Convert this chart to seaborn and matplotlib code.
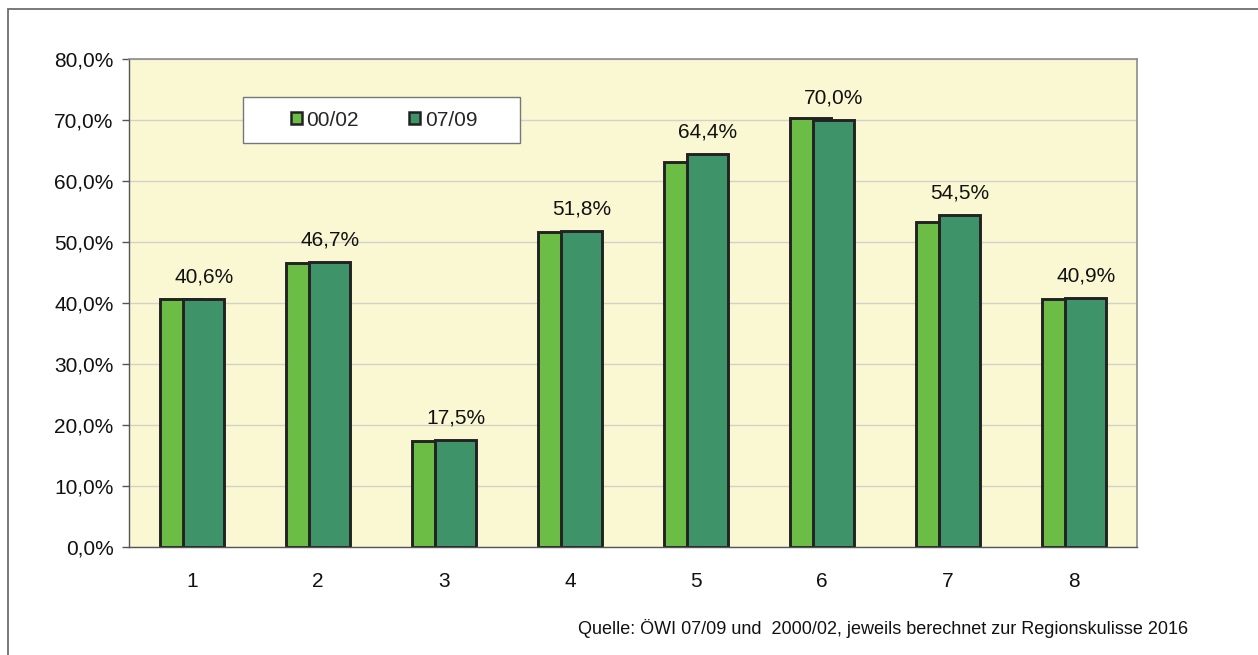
import numpy as np
import matplotlib
matplotlib.use("Agg")
import matplotlib.pyplot as plt
from matplotlib.patches import Rectangle
from matplotlib.ticker import FuncFormatter, FixedLocator
import seaborn as sns

# Region numbers and shares per survey period (%)
regions = ["1", "2", "3", "4", "5", "6", "7", "8"]
share_0002 = [40.6, 46.5, 17.3, 51.6, 63.1, 70.3, 53.2, 40.6]
share_0709 = [40.6, 46.7, 17.5, 51.8, 64.4, 70.0, 54.5, 40.9]
series_labels = ["00/02", "07/09"]
source_note = "Quelle: ÖWI 07/09 und  2000/02, jeweils berechnet zur Regionskulisse 2016"

sns.set_theme(style="white")
plt.rcParams["font.family"] = ["Liberation Sans", "DejaVu Sans"]

col_light = "#6cbd45"
col_dark = "#3e9468"
edge = "#222222"
fs = 15

fig = plt.figure(figsize=(12.58, 6.55), dpi=100)
ax = fig.add_axes([129 / 1258, 1 - 547 / 655, (1137 - 129) / 1258, (547 - 59) / 655])
ax.set_facecolor("#faf8d2")

pos = np.arange(1, len(regions) + 1, dtype=float)
offset = 0.095
bw = 0.325

sns.barplot(x=pos - offset, y=share_0002, native_scale=True, width=bw,
            color=col_light, edgecolor=edge, linewidth=2.1, saturation=1,
            ax=ax, zorder=2, label=series_labels[0])
sns.barplot(x=pos + offset, y=share_0709, native_scale=True, width=bw,
            color=col_dark, edgecolor=edge, linewidth=2.1, saturation=1,
            ax=ax, zorder=2.1, label=series_labels[1])

# Value labels above the 07/09 bars
for x, v in zip(pos + offset, share_0709):
    ax.annotate(f"{v:.1f}%".replace(".", ","), (x, v), xytext=(0, 9),
                textcoords="offset points", ha="center", va="bottom",
                fontsize=fs, color="#111111")

ax.set_xlim(0.5, len(regions) + 0.5)
ax.set_ylim(0, 80)
ax.yaxis.set_major_locator(FixedLocator(np.arange(0, 81, 10)))
ax.yaxis.set_major_formatter(FuncFormatter(lambda v, p: f"{v:.1f}%".replace(".", ",")))
ax.grid(axis="y", color="#d2d2c8", linewidth=1.0, zorder=0)
ax.set_axisbelow(True)

# Category labels at centres, tick marks at category boundaries
ax.set_xticks(pos)
ax.set_xticklabels(regions)
ax.set_xticks(np.arange(0.5, len(regions) + 1, 1.0), minor=True)
ax.tick_params(axis="x", which="major", length=0, pad=18, labelsize=fs, labelcolor="#111111")
ax.tick_params(axis="x", which="minor", length=6, width=1, color="#555555", direction="out")
ax.tick_params(axis="y", which="major", length=5, width=1, color="#555555", direction="out",
               left=True, pad=6, labelsize=fs, labelcolor="#111111")
ax.set_xlabel("")
ax.set_ylabel("")

for side in ["left", "bottom"]:
    ax.spines[side].set_color("#555555")
    ax.spines[side].set_linewidth(1.0)
for side in ["top", "right"]:
    ax.spines[side].set_visible(True)
    ax.spines[side].set_color("#8c8c8c")
    ax.spines[side].set_linewidth(1.2)

# Legend with white box
if ax.get_legend() is not None:
    ax.get_legend().remove()
ax.add_patch(Rectangle((0.113, 0.828), 0.275, 0.094, transform=ax.transAxes,
                       facecolor="white", edgecolor="#777777", linewidth=1.0, zorder=4))
handles = [Rectangle((0, 0), 1, 1, facecolor=c, edgecolor=edge, linewidth=1.8)
           for c in (col_light, col_dark)]
leg = ax.legend(handles, series_labels, loc="center", bbox_to_anchor=(0.253, 0.875),
                ncol=2, frameon=False, fontsize=fs, handlelength=0.55, handleheight=0.55,
                handletextpad=0.2, columnspacing=2.4)
leg.set_zorder(5)

# Source note
fig.text(1188 / 1258, 1 - 628 / 655, source_note, ha="right", va="center",
         fontsize=13, color="#111111")

# Outer frame
fig.patches.append(Rectangle((7.5 / 1258, -0.1), 1.2, 1 - 9.5 / 655 + 0.1,
                             transform=fig.transFigure, fill=False,
                             edgecolor="#6e6e6e", linewidth=1.3))

fig.savefig("out.png", dpi=100, facecolor="white")
